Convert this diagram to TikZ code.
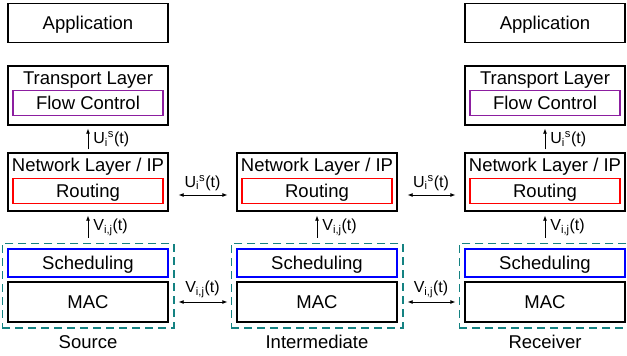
\documentclass[tikz,border=0pt]{standalone}
\usepackage{fontspec}
\setmainfont{Liberation Sans}
\usepackage{xcolor}
\usepackage{tikz}
\usetikzlibrary{positioning,fit,arrows.meta}

\definecolor{grpteal}{RGB}{20,130,130}
\definecolor{fcpurple}{RGB}{140,30,160}
\newcommand{\usig}{U\textsubscript{i}\textsuperscript{s}(t)}
\newcommand{\vsig}{V\textsubscript{i,j}(t)}

\begin{document}
\begin{tikzpicture}[x=1pt, y=-1pt,
    txt/.style={inner sep=0pt, font=\fontsize{18.5}{20}\selectfont, text height=13pt, text depth=0pt},
    box/.style={txt, draw, line width=1.3pt, minimum width=160pt},
    inbox/.style={txt, draw, line width=1.3pt, minimum width=150pt, minimum height=25pt},
    grp/.style={draw=grpteal, dash pattern=on 8pt off 5pt, line width=1.7pt, inner sep=5pt},
    lbl/.style={inner sep=1pt, font=\fontsize{16}{18}\selectfont},
    uparr/.style={-{Latex[length=5pt,width=4pt]}, line width=0.8pt},
    dblarr/.style={{Latex[length=5pt,width=4pt]}-{Latex[length=5pt,width=4pt]}, line width=0.8pt, shorten <=10pt, shorten >=9pt}]
    \useasboundingbox (0,0) rectangle (627,356);

    % Source stack
    \node[box, minimum height=39pt] (app1) at (88,23) {Application};
    \node[box, minimum height=59pt] (tl1) at (88,95.5) {};
    \node[txt] (tlt1) at (88,77.5) {Transport Layer};
    \node[inbox, draw=fcpurple] (fc1) at (88,103) {Flow Control};
    \node[box, minimum height=58pt] (nl1) at (88,182) {};
    \node[txt] (nlt1) at (88,164.5) {Network Layer / IP};
    \node[inbox, draw=red] (rt1) at (88,191) {Routing};
    \node[box, draw=blue, minimum height=28pt] (sch1) at (88,263) {Scheduling};
    \node[box, minimum height=40pt] (mac1) at (88,302) {MAC};
    \node[grp, fit=(sch1)(mac1)] (grp1) {};
    \node[txt] (src) at (88,342) {Source};

    % Intermediate stack
    \node[box, minimum height=58pt] (nl2) at (317,182) {};
    \node[txt] (nlt2) at (317,164.5) {Network Layer / IP};
    \node[inbox, draw=red] (rt2) at (317,191) {Routing};
    \node[box, draw=blue, minimum height=28pt] (sch2) at (317,263) {Scheduling};
    \node[box, minimum height=40pt] (mac2) at (317,302) {MAC};
    \node[grp, fit=(sch2)(mac2)] (grp2) {};
    \node[txt] (mid) at (317,342) {Intermediate};

    % Receiver stack
    \node[box, minimum height=39pt] (app3) at (545,23) {Application};
    \node[box, minimum height=59pt] (tl3) at (545,95.5) {};
    \node[txt] (tlt3) at (545,77.5) {Transport Layer};
    \node[inbox, draw=fcpurple] (fc3) at (545,103) {Flow Control};
    \node[box, minimum height=58pt] (nl3) at (545,182) {};
    \node[txt] (nlt3) at (545,164.5) {Network Layer / IP};
    \node[inbox, draw=red] (rt3) at (545,191) {Routing};
    \node[box, draw=blue, minimum height=28pt] (sch3) at (545,263) {Scheduling};
    \node[box, minimum height=40pt] (mac3) at (545,302) {MAC};
    \node[grp, fit=(sch3)(mac3)] (grp3) {};
    \node[txt] (rcv) at (545,342) {Receiver};

    % Vertical signals
    \draw[uparr, shorten <=3pt, shorten >=3pt] (nl1) -- (tl1) node[lbl, midway, right=4pt] {\usig};
    \draw[uparr, shorten <=3pt, shorten >=3pt] (nl3) -- (tl3) node[lbl, midway, right=4pt] {\usig};
    \draw[uparr, shorten <=5pt, shorten >=4pt] (grp1) -- (nl1) node[lbl, midway, right=4pt] {\vsig};
    \draw[uparr, shorten <=5pt, shorten >=4pt] (grp2) -- (nl2) node[lbl, midway, right=4pt] {\vsig};
    \draw[uparr, shorten <=5pt, shorten >=4pt] (grp3) -- (nl3) node[lbl, midway, right=4pt] {\vsig};

    % Horizontal links
    \draw[dblarr] ([yshift=-13pt]nl1.east) -- ([yshift=-13pt]nl2.west) node[lbl, midway, above=3pt] {\usig};
    \draw[dblarr] ([yshift=-13pt]nl2.east) -- ([yshift=-13pt]nl3.west) node[lbl, midway, above=3pt] {\usig};
    \draw[dblarr] (mac1) -- (mac2) node[lbl, midway, above=3pt] {\vsig};
    \draw[dblarr] (mac2) -- (mac3) node[lbl, midway, above=3pt] {\vsig};
\end{tikzpicture}
\end{document}
